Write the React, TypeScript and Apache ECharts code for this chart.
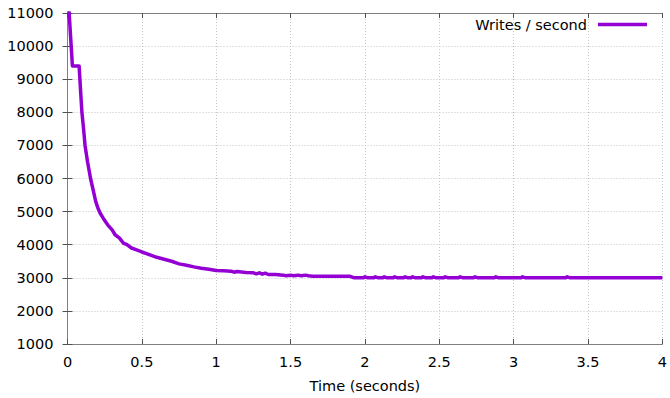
import React, { useEffect, useRef } from "react";
import * as echarts from "echarts";

// Time (seconds) and writes/second readings
const times: number[] = [
  0.0, 0.033, 0.078, 0.09, 0.097, 0.108, 0.118, 0.135, 0.155, 0.175, 0.19, 0.205,
  0.22, 0.24, 0.27, 0.3, 0.32, 0.35, 0.375, 0.4, 0.43, 0.46, 0.5, 0.55, 0.6,
  0.65, 0.7, 0.75, 0.8, 0.85, 0.9, 0.95, 1.0, 1.05, 1.1, 1.12, 1.14, 1.2, 1.25,
  1.27, 1.29, 1.31, 1.33, 1.35, 1.4, 1.45, 1.47, 1.5, 1.52, 1.55, 1.57, 1.6,
  1.62, 1.65, 1.9, 1.92, 1.93, 1.95, 1.99, 2.0, 2.02, 2.06, 2.07, 2.09, 2.12,
  2.13, 2.15, 2.19, 2.2, 2.22, 2.26, 2.27, 2.29, 2.31, 2.32, 2.34, 2.38, 2.39,
  2.41, 2.45, 2.46, 2.48, 2.53, 2.54, 2.56, 2.63, 2.64, 2.66, 2.73, 2.74, 2.76,
  2.87, 2.88, 2.9, 3.05, 3.06, 3.08, 3.35, 3.36, 3.38, 4.0,
];
const writesPerSecond: number[] = [
  11800, 9400, 9400, 8500, 8000, 7500, 7000, 6500, 6000, 5600, 5300, 5100,
  4950, 4800, 4600, 4450, 4300, 4200, 4050, 4000, 3900, 3850, 3780, 3700, 3620,
  3560, 3500, 3420, 3380, 3330, 3290, 3260, 3220, 3210, 3200, 3170, 3190, 3160, 3150,
  3120, 3150, 3110, 3140, 3100, 3100, 3080, 3060, 3080, 3060, 3080, 3060, 3080,
  3060, 3045, 3045, 3010, 3000, 3000, 3000, 3030, 3000, 3000, 3030, 3000, 3000,
  3030, 3000, 3000, 3030, 3000, 3000, 3030, 3000, 3000, 3030, 3000, 3000, 3030,
  3000, 3000, 3030, 3000, 3000, 3030, 3000, 3000, 3030, 3000, 3000, 3030, 3000,
  3000, 3030, 3000, 3000, 3030, 3000, 3000, 3030, 3000, 3000,
];

const seriesName = "Writes / second";
const xAxisTitle = "Time (seconds)";

const FONT = "DejaVu Sans";
const FS = 14.5;
const PURPLE = "#9400D3";

export default function App() {
  const ref = useRef<HTMLDivElement>(null);

  useEffect(() => {
    if (!ref.current) return;
    const chart = echarts.init(ref.current, undefined, { renderer: "svg" });
    const data = times.map((t, i) => [t, writesPerSecond[i]]);
    const frameColor = "#808080";
    const tickColor = "#505050";
    const gridLine = { show: true, lineStyle: { color: "#c4c4c4", type: [1, 2] as any, width: 1 } };
    chart.setOption({
      animation: false,
      backgroundColor: "#ffffff",
      textStyle: { fontFamily: FONT },
      grid: { left: 67.5, right: 5, top: 13, bottom: 50, containLabel: false },
      legend: {
        show: true,
        right: 18,
        top: 12,
        align: "right",
        itemWidth: 49,
        itemHeight: 3.5,
        textStyle: { fontFamily: FONT, fontSize: FS, color: "#000", padding: [0, 6, 0, 0] },
        data: [{ name: seriesName, icon: "rect", itemStyle: { color: PURPLE } }],
        itemStyle: { borderWidth: 0 },
      },
      xAxis: [
        {
          type: "value",
          min: 0,
          max: 4,
          interval: 0.5,
          position: "bottom",
          name: xAxisTitle,
          nameLocation: "middle",
          nameGap: 34,
          nameTextStyle: { fontFamily: FONT, fontSize: FS, color: "#000" },
          axisLine: { show: true, lineStyle: { color: frameColor, width: 1 } },
          axisTick: { show: true, inside: true, length: 5, lineStyle: { color: tickColor } },
          axisLabel: { fontFamily: FONT, fontSize: FS, color: "#000", margin: 10 },
          splitLine: gridLine,
        },
        {
          type: "value",
          min: 0,
          max: 4,
          interval: 0.5,
          position: "top",
          axisLine: { show: true, lineStyle: { color: frameColor, width: 1 } },
          axisTick: { show: true, inside: true, length: 5, lineStyle: { color: tickColor } },
          axisLabel: { show: false },
          splitLine: { show: false },
        },
      ],
      yAxis: [
        {
          type: "value",
          min: 1000,
          max: 11000,
          interval: 1000,
          position: "left",
          axisLine: { show: true, lineStyle: { color: frameColor, width: 1 } },
          axisTick: { show: true, inside: true, length: 5, lineStyle: { color: tickColor } },
          axisLabel: {
            fontFamily: FONT,
            fontSize: FS,
            color: "#000",
            margin: 14,
            formatter: (v: number) => String(v),
          },
          splitLine: gridLine,
        },
        {
          type: "value",
          min: 1000,
          max: 11000,
          interval: 1000,
          position: "right",
          axisLine: { show: true, lineStyle: { color: frameColor, width: 1 } },
          axisTick: { show: true, inside: true, length: 5, lineStyle: { color: tickColor } },
          axisLabel: { show: false },
          splitLine: { show: false },
        },
      ],
      series: [
        {
          name: seriesName,
          type: "line",
          xAxisIndex: 0,
          yAxisIndex: 0,
          data,
          symbol: "none",
          showSymbol: false,
          clip: true,
          lineStyle: { color: PURPLE, width: 3.5, join: "round" },
          itemStyle: { color: PURPLE },
        },
      ],
    });
    return () => chart.dispose();
  }, []);

  return (
    <div
      ref={ref}
      style={{ position: "fixed", left: 0, top: 0, width: 670, height: 398 }}
    />
  );
}
